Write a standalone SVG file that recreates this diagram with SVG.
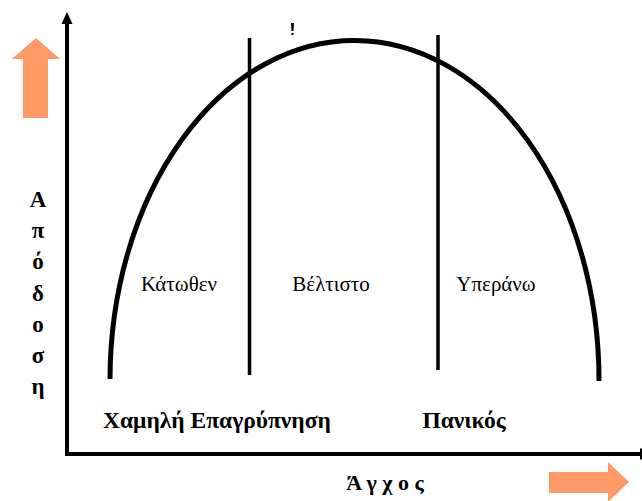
<svg xmlns="http://www.w3.org/2000/svg" width="642" height="501" viewBox="0 0 642 501">
<style>
.ax{stroke:#000;stroke-width:4;fill:none}
.ln{stroke:#000;stroke-width:3.5;fill:none}
.cv{stroke:#000;stroke-width:5;fill:none}
.big{fill:#FF9966}
.lbl{font-family:"Liberation Serif","DejaVu Serif",serif;font-size:21px;fill:#000}
.bld{font-family:"Liberation Serif","DejaVu Serif",serif;font-size:23.5px;font-weight:bold;fill:#000}
.yl{font-family:"Liberation Serif","DejaVu Serif",serif;font-size:23px;font-weight:bold;fill:#000}
.xl{font-family:"Liberation Serif","DejaVu Serif",serif;font-size:22px;font-weight:bold;fill:#000}
</style>
<rect width="642" height="501" fill="#fff"/>
<g id="connectors">
<line class="ax" x1="67" y1="20" x2="67" y2="454"/>
<polygon points="67,12 61.5,24 72.5,24" fill="#000"/>
<line class="ax" x1="65" y1="454" x2="642" y2="454"/>
<polygon points="640,448 640,460 652,454" fill="#000"/>
<path id="curve" class="cv" d="M110,379 A244 339 0 0 1 599,381"/>
<line class="ln" x1="249.5" y1="38" x2="249.5" y2="375"/>
<line class="ln" x1="438" y1="35" x2="438" y2="370"/>
<path d="M291,23 L294,23 L293.5,31 L291.5,31 Z M291.5,33 L293.5,33 L293.5,35 L291.5,35 Z" fill="#000"/>
</g>
<g id="arrow-up">
<polygon class="big" points="36,38 60,59 48,59 48,118 23,118 23,59 12,59"/>
</g>
<g id="arrow-right">
<polygon class="big" points="549,472 608,472 608,462 629,482 608,502 608,493 549,493"/>
</g>
<g id="label-katothen"><text class="lbl" x="179" y="291" text-anchor="middle">Κάτωθεν</text></g>
<g id="label-veltisto"><text class="lbl" x="331" y="291" text-anchor="middle">Βέλτιστο</text></g>
<g id="label-yperano"><text class="lbl" x="496" y="291" text-anchor="middle">Υπεράνω</text></g>
<g id="label-low"><text class="bld" x="103" y="428">Χαμηλή Επαγρύπνηση</text></g>
<g id="label-panic"><text class="bld" x="464" y="428" text-anchor="middle">Πανικός</text></g>
<g id="y-label">
<text class="yl" text-anchor="middle" x="38" y="207">Α</text>
<text class="yl" text-anchor="middle" x="38" y="238">π</text>
<text class="yl" text-anchor="middle" x="38" y="269">ό</text>
<text class="yl" text-anchor="middle" x="38" y="301">δ</text>
<text class="yl" text-anchor="middle" x="38" y="332">ο</text>
<text class="yl" text-anchor="middle" x="38" y="363">σ</text>
<text class="yl" text-anchor="middle" x="38" y="394">η</text>
</g>
<g id="x-label"><text class="xl" x="385" y="490" text-anchor="middle">Ά γ χ ο ς</text></g>
</svg>
